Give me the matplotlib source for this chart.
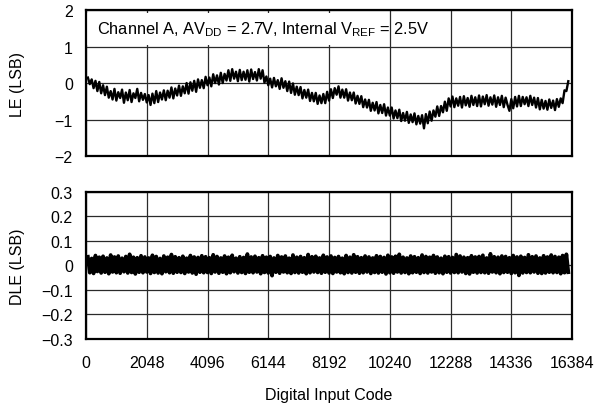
import matplotlib
matplotlib.use("Agg")
import matplotlib.pyplot as plt
import numpy as np

plt.rcParams['font.family'] = ['Liberation Sans', 'DejaVu Sans']

# codes sampled every 64 LSB
codes = np.arange(64, 16257, 64)

# linearity error, in hundredths of an LSB
le_centi = [
    15, -3, 10, -14, 6, -22, 3, -28, -6, -33,
    -10, -40, -22, -45, -16, -48, -25, -41, -18, -54,
    -26, -47, -19, -52, -28, -41, -16, -50, -27, -46,
    -30, -53, -33, -60, -29, -55, -22, -52, -26, -45,
    -20, -47, -21, -40, -12, -42, -15, -34, -7, -35,
    -9, -28, 0, -29, 2, -21, 6, -24, 10, -13,
    8, -14, 17, -6, 15, -9, 24, 0, 21, -4,
    28, 0, 25, 7, 35, 6, 38, 12, 31, 5,
    36, 8, 31, 9, 35, 4, 37, 11, 30, 7,
    38, 12, 35, 1, 18, -6, 12, -12, 14, -9,
    8, -16, 13, -13, 5, -22, 4, -27, -1, -32,
    -10, -33, -11, -42, -19, -40, -18, -49, -27, -50,
    -27, -57, -34, -55, -30, -55, -24, -48, -17, -41,
    -14, -32, -9, -40, -18, -40, -17, -48, -26, -47,
    -26, -56, -35, -57, -36, -66, -45, -67, -46, -76,
    -54, -75, -52, -83, -60, -82, -58, -89, -67, -89,
    -67, -97, -75, -96, -73, -104, -82, -103, -79, -109,
    -86, -107, -83, -113, -90, -111, -88, -124, -85, -110,
    -78, -103, -75, -92, -64, -90, -63, -80, -51, -76,
    -42, -64, -37, -66, -42, -62, -38, -67, -36, -61,
    -41, -65, -35, -60, -39, -63, -34, -64, -37, -58,
    -33, -62, -39, -59, -34, -65, -39, -60, -35, -66,
    -40, -60, -76, -44, -69, -38, -64, -35, -63, -38,
    -58, -39, -63, -35, -60, -40, -67, -41, -72, -46,
    -70, -49, -73, -45, -68, -48, -74, -44, -65, -42,
    -55, -20, -22, 5,
]

# differential linearity error, in thousandths of an LSB
dle_milli = [
    35, -30, 28, -33, 40, -25, 33, -31, 37, -28,
    30, -34, 42, -27, 34, -30, 38, -32, 29, -26,
    36, -31, 45, -29, 33, -35, 31, -28, 39, -30,
    34, -27, 30, -33, 41, -29, 36, -31, 28, -34,
    38, -26, 33, -30, 44, -32, 35, -28, 31, -29,
    37, -33, 29, -27, 40, -31, 34, -36, 32, -28,
    39, -30, 35, -29, 31, -33, 43, -27, 36, -32,
    30, -28, 38, -34, 33, -30, 41, -26, 29, -31,
    35, -29, 32, -33, 46, -28, 34, -30, 37, -27,
    31, -34, 39, -29, 33, -31, 36, -42, 30, -28,
    40, -32, 34, -27, 38, -30, 29, -33, 42, -29,
    33, -31, 36, -28, 31, -34, 44, -30, 35, -27,
    37, -29, 30, -32, 41, -28, 34, -31, 38, -33,
    32, -27, 36, -30, 29, -34, 40, -29, 33, -31,
    43, -28, 35, -32, 31, -30, 38, -27, 34, -33,
    30, -29, 39, -31, 36, -28, 32, -35, 41, -30,
    34, -32, 37, -27, 45, -31, 33, -29, 30, -34,
    38, -30, 35, -28, 31, -33, 42, -29, 36, -31,
    33, -27, 40, -32, 34, -30, 29, -34, 37, -28,
    35, -31, 32, -29, 44, -30, 38, -27, 33, -33,
    31, -35, 39, -28, 34, -31, 36, -29, 41, -30,
    30, -32, 47, -27, 35, -30, 33, -34, 38, -29,
    36, -28, 31, -33, 40, -30, 34, -41, 37, -31,
    32, -29, 43, -30, 35, -27, 38, -32, 30, -33,
    39, -31, 34, -28, 42, -30, 36, -29, 33, -34,
    40, -30, 45, -28,
]

x_ticks = [0, 2048, 4096, 6144, 8192, 10240, 12288, 14336, 16384]
le_ticks = [2, 1, 0, -1, -2]
le_labels = ["2", "1", "0", "\u22121", "\u22122"]
dle_ticks = [0.3, 0.2, 0.1, 0, -0.1, -0.2, -0.3]
dle_labels = ["0.3", "0.2", "0.1", "0", "\u22120.1", "\u22120.2", "\u22120.3"]

le = np.array(le_centi) / 100.0
dle = np.array(dle_milli) / 1000.0

fig = plt.figure(figsize=(5.95, 4.06), dpi=100)
ax1 = fig.add_axes([0.1445, 0.613, 0.817, 0.360])
ax2 = fig.add_axes([0.1445, 0.163, 0.817, 0.362])

fs = 11.5
for ax in (ax1, ax2):
    ax.set_xlim(0, 16384)
    ax.set_xticks(x_ticks)
    ax.set_axisbelow(True)
    ax.grid(True, color="#2a2a2a", linewidth=0.9)
    ax.tick_params(axis="y", length=0, labelsize=fs, pad=9.5)
    ax.tick_params(axis="x", length=0, labelsize=fs, pad=12)
    for s in ax.spines.values():
        s.set_linewidth(1.6)
        s.set_color("black")

ax1.plot(codes, le, color="black", linewidth=1.7, zorder=3)
ax1.set_ylim(-2, 2)
ax1.set_yticks(le_ticks)
ax1.set_yticklabels(le_labels)
ax1.set_xticklabels([])
ax1.set_ylabel("LE (LSB)", fontsize=fs)
ax1.yaxis.set_label_coords(-0.125, 0.5)

# white panel behind the condition text
ax1.fill_between([0, 10180], 1.04, 1.93, color="white", zorder=1, linewidth=0)
ax1.text(380, 1.5,
         r"Channel A, AV$_{\mathregular{DD}}$ = 2.7V, Internal V$_{\mathregular{REF}}$ = 2.5V",
         fontsize=11.8, va="center", ha="left", zorder=4)

ax2.plot(codes, dle, color="black", linewidth=2.7, zorder=3)
ax2.set_ylim(-0.3, 0.3)
ax2.set_yticks(dle_ticks)
ax2.set_yticklabels(dle_labels)
ax2.set_xticklabels([str(t) for t in x_ticks])
ax2.set_ylabel("DLE (LSB)", fontsize=fs)
ax2.yaxis.set_label_coords(-0.125, 0.5)
ax2.set_xlabel("Digital Input Code", fontsize=fs)
ax2.xaxis.set_label_coords(0.5, -0.33)

fig.savefig("out.png", dpi=100)
